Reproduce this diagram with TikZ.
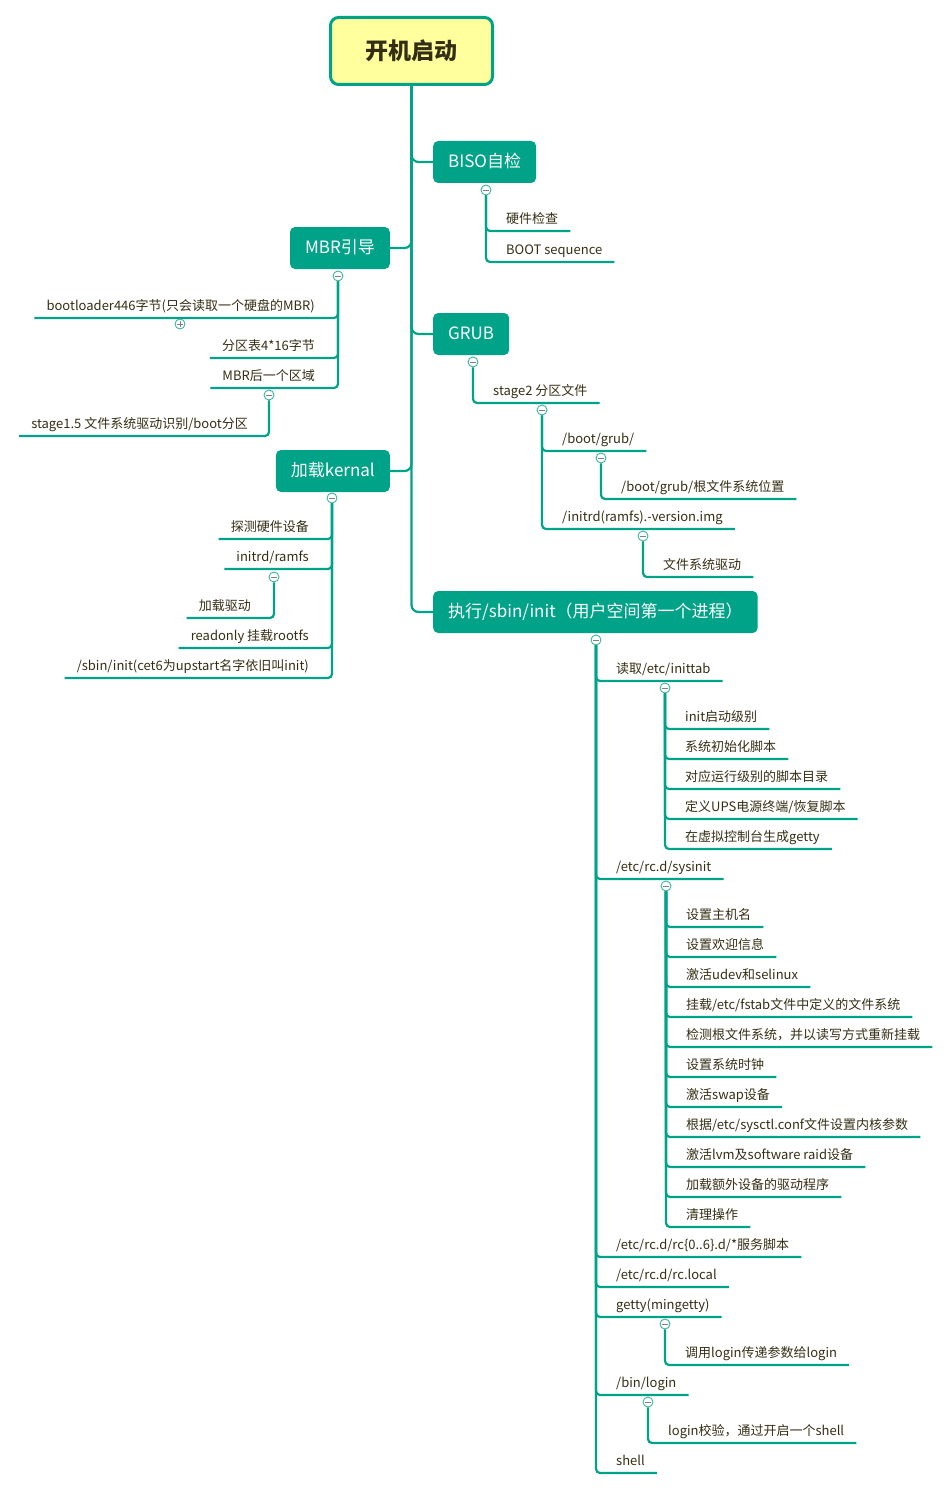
\documentclass[tikz,border=0pt]{standalone}
\usepackage{fontspec}
\newfontfamily\cjk{Noto Sans CJK SC}
\definecolor{mapgreen}{RGB}{0,163,136}
\definecolor{rootyellow}{RGB}{255,255,158}
\definecolor{ink}{RGB}{52,46,20}
\definecolor{foldline}{RGB}{60,180,160}
\begin{document}
\begin{tikzpicture}[x=1pt,y=-1pt,
    root/.style={draw=mapgreen,line width=3pt,fill=rootyellow,rounded corners=8pt,minimum width=162pt,minimum height=67pt,text=ink,font={\cjk\bfseries\fontsize{23}{23}\selectfont}},
    topic/.style={fill=mapgreen,text=white,rounded corners=5pt,minimum height=42pt,inner xsep=15pt,text height=13pt,text depth=2pt,font={\cjk\fontsize{17}{17}\selectfont}},
    leaf/.style={text=ink,inner xsep=12pt,inner ysep=4pt,text height=10pt,text depth=3pt,font={\cjk\fontsize{13}{13}\selectfont}},
    fold/.style={circle,draw=foldline,fill=white,line width=0.9pt,inner sep=0pt,minimum size=10pt,
      path picture={\draw[gray,line width=0.9pt] ([xshift=-2.6pt]path picture bounding box.center) -- ([xshift=2.6pt]path picture bounding box.center);}},
    unfold/.style={circle,draw=foldline,fill=white,line width=0.9pt,inner sep=0pt,minimum size=10pt,
      path picture={\draw[gray,line width=0.9pt] ([xshift=-2.6pt]path picture bounding box.center) -- ([xshift=2.6pt]path picture bounding box.center);
        \draw[gray,line width=0.9pt] ([yshift=-2.6pt]path picture bounding box.center) -- ([yshift=2.6pt]path picture bounding box.center);}},
    link/.style={draw=mapgreen,line width=2.2pt,rounded corners=4pt},
    trunk/.style={draw=mapgreen,line width=2.2pt,rounded corners=7pt}]
    \useasboundingbox (0,0) rectangle (949,1490);

    % main branches
    \node[root] at (411.5,51) (root) {开机启动};
    \node[topic,anchor=west] at (433,162) (biso) {BISO自检};
    \node[topic,anchor=east] at (390,248) (mbr) {MBR引导};
    \node[topic,anchor=west] at (433,334) (grub) {GRUB};
    \node[topic,anchor=east] at (390,471) (kernal) {加载kernal};
    \node[topic,anchor=west] at (433,612) (init) {执行/sbin/init（用户空间第一个进程）};

    \draw[trunk] (root) |- (biso);
    \draw[trunk] (root) |- (mbr);
    \draw[trunk] (root) |- (grub);
    \draw[trunk] (root) |- (kernal);
    \draw[trunk] (root) |- (init);

    % BISO
    \node[fold] at (486,190) (bisoF) {};
    \node[leaf,anchor=south west] at (494,231) (hw) {硬件检查};
    \node[leaf,anchor=south west] at (494,262) (bootseq) {BOOT sequence};
    \draw[link] (bisoF) |- (hw.south east);
    \draw[link] (bisoF) |- (bootseq.south east);

    % MBR
    \node[fold] at (338,276) (mbrF) {};
    \node[leaf,anchor=south east] at (327,318) (bootloader) {bootloader446字节(只会读取一个硬盘的MBR)};
    \node[leaf,anchor=south east] at (327,358) (ptable) {分区表4*16字节};
    \node[leaf,anchor=south east] at (327,388) (region) {MBR后一个区域};
    \draw[link] (mbrF) |- (bootloader.south west);
    \draw[link] (mbrF) |- (ptable.south west);
    \draw[link] (mbrF) |- (region.south west);
    \node[unfold] at (180,324) (bootloaderF) {};
    \node[fold] at (269,395) (regionF) {};
    \node[leaf,anchor=south east] at (260,436) (stage15) {stage1.5 文件系统驱动识别/boot分区};
    \draw[link] (regionF) |- (stage15.south west);

    % GRUB
    \node[fold] at (473,362) (grubF) {};
    \node[leaf,anchor=south west] at (481,403) (stage2) {stage2 分区文件};
    \draw[link] (grubF) |- (stage2.south east);
    \node[fold] at (542,410) (stage2F) {};
    \node[leaf,anchor=south west] at (550,451) (grubdir) {/boot/grub/};
    \node[leaf,anchor=south west] at (550,529) (initrd) {/initrd(ramfs).-version.img};
    \draw[link] (stage2F) |- (grubdir.south east);
    \draw[link] (stage2F) |- (initrd.south east);
    \node[fold] at (601,458) (grubdirF) {};
    \node[leaf,anchor=south west] at (609,499) (rootpos) {/boot/grub/根文件系统位置};
    \draw[link] (grubdirF) |- (rootpos.south east);
    \node[fold] at (643,536) (initrdF) {};
    \node[leaf,anchor=south west] at (651,577) (fsdrv) {文件系统驱动};
    \draw[link] (initrdF) |- (fsdrv.south east);

    % kernal
    \node[fold] at (332,498) (kernalF) {};
    \node[leaf,anchor=south east] at (321,539) (probe) {探测硬件设备};
    \node[leaf,anchor=south east] at (321,569) (ramfs) {initrd/ramfs};
    \node[leaf,anchor=south east] at (321,648) (rofs) {readonly 挂载rootfs};
    \node[leaf,anchor=south east] at (321,678) (sbininit) {/sbin/init(cet6为upstart名字依旧叫init)};
    \draw[link] (kernalF) |- (probe.south west);
    \draw[link] (kernalF) |- (ramfs.south west);
    \draw[link] (kernalF) |- (rofs.south west);
    \draw[link] (kernalF) |- (sbininit.south west);
    \node[fold] at (274,577) (ramfsF) {};
    \node[leaf,anchor=south east] at (263,618) (loaddrv) {加载驱动};
    \draw[link] (ramfsF) |- (loaddrv.south west);

    % /sbin/init
    \node[fold] at (596,640) (initF) {};
    \node[leaf,anchor=south west] at (604,681) (inittab) {读取/etc/inittab};
    \node[leaf,anchor=south west] at (604,879) (sysinit) {/etc/rc.d/sysinit};
    \node[leaf,anchor=south west] at (604,1257) (rcd) {/etc/rc.d/rc\{0..6\}.d/*服务脚本};
    \node[leaf,anchor=south west] at (604,1287) (rclocal) {/etc/rc.d/rc.local};
    \node[leaf,anchor=south west] at (604,1317) (getty) {getty(mingetty)};
    \node[leaf,anchor=south west] at (604,1395) (binlogin) {/bin/login};
    \node[leaf,anchor=south west] at (604,1473) (shell) {shell};
    \draw[link] (initF) |- (inittab.south east);
    \draw[link] (initF) |- (sysinit.south east);
    \draw[link] (initF) |- (rcd.south east);
    \draw[link] (initF) |- (rclocal.south east);
    \draw[link] (initF) |- (getty.south east);
    \draw[link] (initF) |- (binlogin.south east);
    \draw[link] (initF) |- (shell.south east);

    \node[fold] at (665,688) (inittabF) {};
    \node[leaf,anchor=south west] at (673,729) (runlevel) {init启动级别};
    \node[leaf,anchor=south west] at (673,759) (sysscript) {系统初始化脚本};
    \node[leaf,anchor=south west] at (673,789) (rcdir) {对应运行级别的脚本目录};
    \node[leaf,anchor=south west] at (673,819) (ups) {定义UPS电源终端/恢复脚本};
    \node[leaf,anchor=south west] at (673,849) (vcgetty) {在虚拟控制台生成getty};
    \draw[link] (inittabF) |- (runlevel.south east);
    \draw[link] (inittabF) |- (sysscript.south east);
    \draw[link] (inittabF) |- (rcdir.south east);
    \draw[link] (inittabF) |- (ups.south east);
    \draw[link] (inittabF) |- (vcgetty.south east);

    \node[fold] at (666,886) (sysinitF) {};
    \node[leaf,anchor=south west] at (674,927) (hostname) {设置主机名};
    \node[leaf,anchor=south west] at (674,957) (welcome) {设置欢迎信息};
    \node[leaf,anchor=south west] at (674,987) (udev) {激活udev和selinux};
    \node[leaf,anchor=south west] at (674,1017) (fstab) {挂载/etc/fstab文件中定义的文件系统};
    \node[leaf,anchor=south west] at (674,1047) (rootchk) {检测根文件系统，并以读写方式重新挂载};
    \node[leaf,anchor=south west] at (674,1077) (clock) {设置系统时钟};
    \node[leaf,anchor=south west] at (674,1107) (swap) {激活swap设备};
    \node[leaf,anchor=south west] at (674,1137) (sysctl) {根据/etc/sysctl.conf文件设置内核参数};
    \node[leaf,anchor=south west] at (674,1167) (lvm) {激活lvm及software raid设备};
    \node[leaf,anchor=south west] at (674,1197) (extdrv) {加载额外设备的驱动程序};
    \node[leaf,anchor=south west] at (674,1227) (cleanup) {清理操作};
    \draw[link] (sysinitF) |- (hostname.south east);
    \draw[link] (sysinitF) |- (welcome.south east);
    \draw[link] (sysinitF) |- (udev.south east);
    \draw[link] (sysinitF) |- (fstab.south east);
    \draw[link] (sysinitF) |- (rootchk.south east);
    \draw[link] (sysinitF) |- (clock.south east);
    \draw[link] (sysinitF) |- (swap.south east);
    \draw[link] (sysinitF) |- (sysctl.south east);
    \draw[link] (sysinitF) |- (lvm.south east);
    \draw[link] (sysinitF) |- (extdrv.south east);
    \draw[link] (sysinitF) |- (cleanup.south east);

    \node[fold] at (665,1324) (gettyF) {};
    \node[leaf,anchor=south west] at (673,1365) (callogin) {调用login传递参数给login};
    \draw[link] (gettyF) |- (callogin.south east);

    \node[fold] at (648,1402) (binloginF) {};
    \node[leaf,anchor=south west] at (656,1443) (shellchk) {login校验，通过开启一个shell};
    \draw[link] (binloginF) |- (shellchk.south east);
\end{tikzpicture}
\end{document}
